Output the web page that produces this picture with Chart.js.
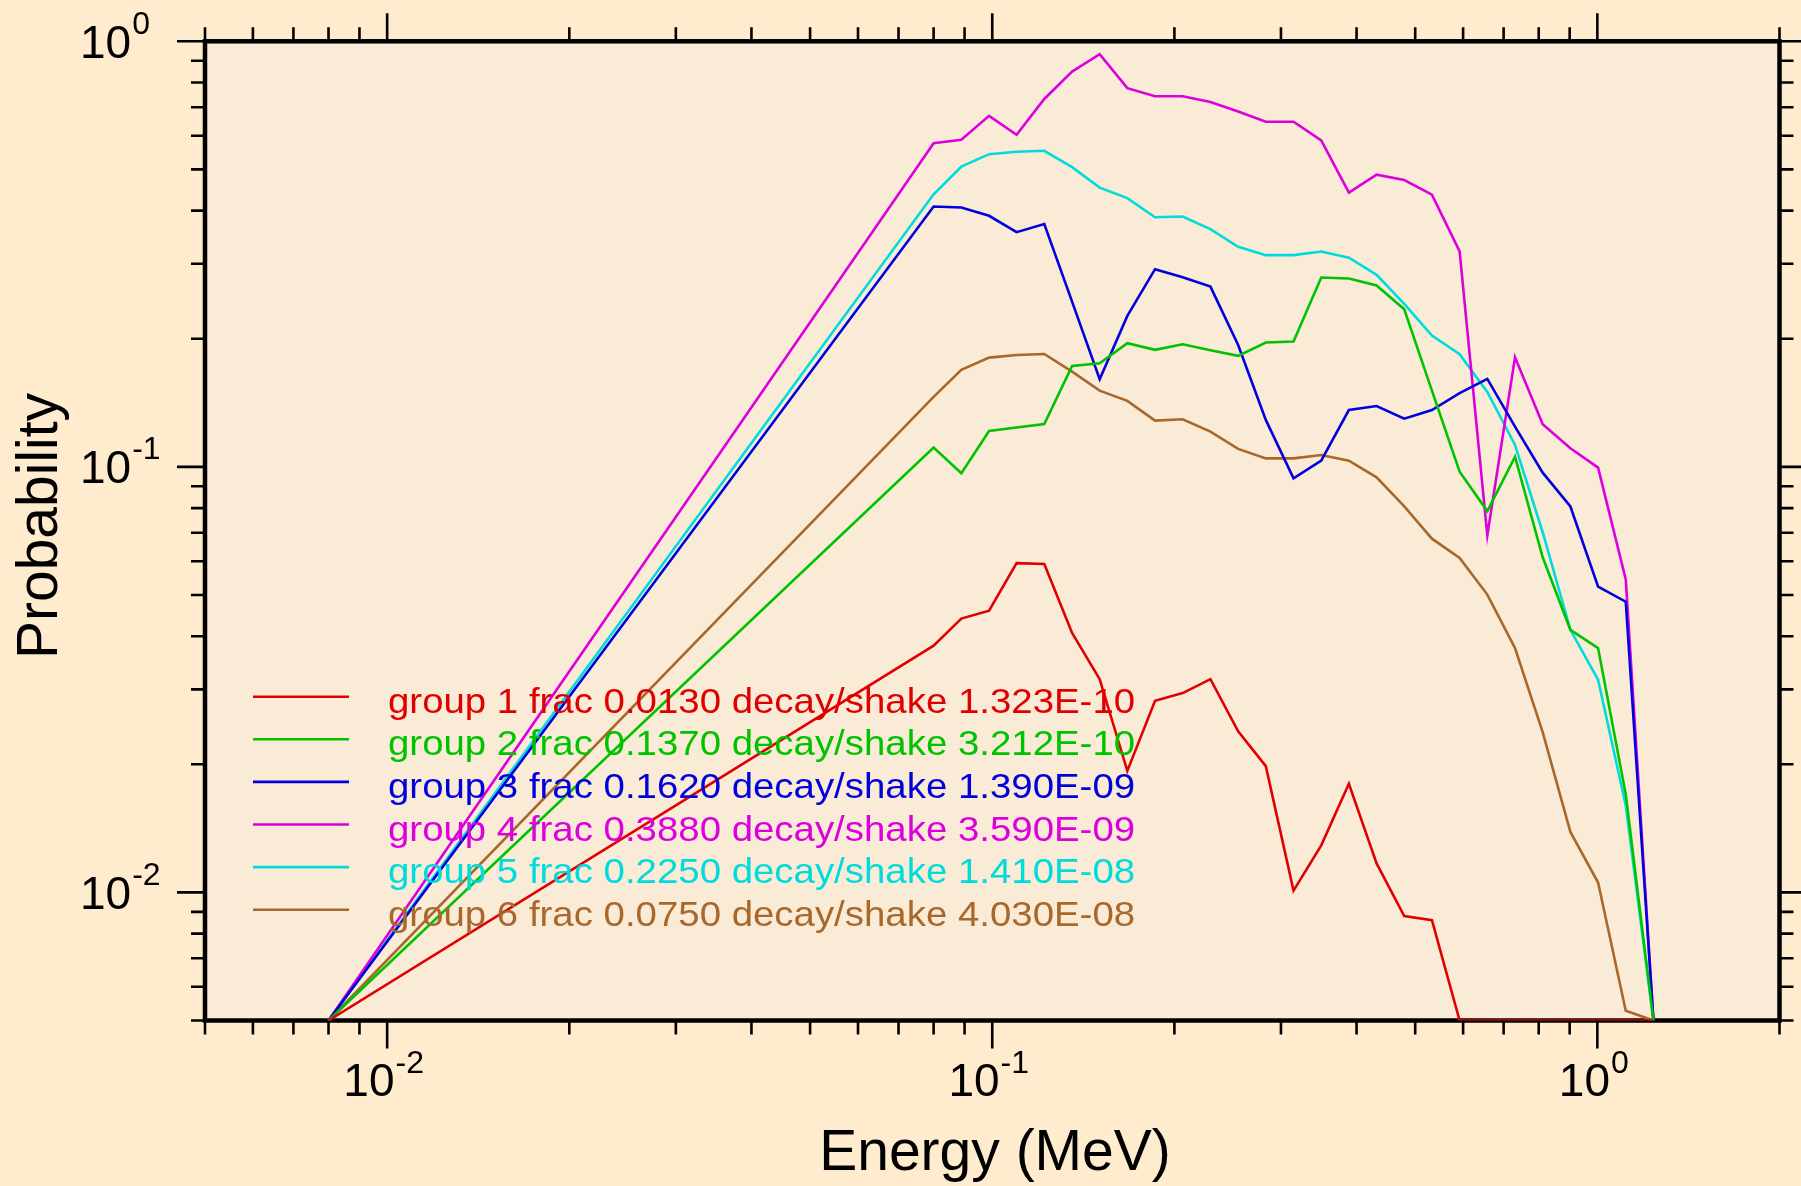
<!DOCTYPE html>
<html><head><meta charset="utf-8">
<script src="https://cdn.jsdelivr.net/npm/chart.js@4.4.1/dist/chart.umd.min.js"></script>
<style>
html,body{margin:0;padding:0;background:#FFEBCD;overflow:hidden}
#wrap{width:1801px;height:1186px;position:relative}
canvas{display:block}
</style></head>
<body><div id="wrap"><canvas id="c" width="1801" height="1186"></canvas></div>
<script>
// ---- data ----
const energy = [0.008, 0.08, 0.0889, 0.0988, 0.1097, 0.1219, 0.1355, 0.1505, 0.1672, 0.1858, 0.2064, 0.2294, 0.2549, 0.2832, 0.3147, 0.3497, 0.3885, 0.4317, 0.4796, 0.5329, 0.5921, 0.6579, 0.7310, 0.8122, 0.9025, 1.0028, 1.1142, 1.238];

const group1 = [0.005, 0.0380, 0.0440, 0.0459, 0.0594, 0.0591, 0.0407, 0.0317, 0.0193, 0.0282, 0.0294, 0.0317, 0.0239, 0.0198, 0.0101, 0.0129, 0.0180, 0.0117, 0.0088, 0.0086, 0.005, 0.005, 0.005, 0.005, 0.005, 0.005, 0.005, 0.005];
const group2 = [0.005, 0.111, 0.0966, 0.1214, 0.1237, 0.126, 0.1726, 0.1751, 0.1952, 0.1883, 0.1941, 0.188, 0.1823, 0.1959, 0.197, 0.2786, 0.277, 0.2667, 0.2346, 0.151, 0.0974, 0.0787, 0.1056, 0.0613, 0.0414, 0.0375, 0.017, 0.005];
const group3 = [0.005, 0.409, 0.407, 0.389, 0.356, 0.372, 0.2445, 0.1607, 0.2263, 0.2914, 0.279, 0.2652, 0.1934, 0.1289, 0.094, 0.1034, 0.136, 0.139, 0.1298, 0.136, 0.149, 0.1609, 0.1243, 0.0969, 0.0807, 0.0523, 0.0482, 0.005];
const group4 = [0.005, 0.576, 0.587, 0.668, 0.603, 0.732, 0.849, 0.933, 0.776, 0.743, 0.743, 0.72, 0.684, 0.647, 0.647, 0.585, 0.441, 0.486, 0.472, 0.436, 0.321, 0.069, 0.181, 0.126, 0.1106, 0.0996, 0.0544, 0.005];
const group5 = [0.005, 0.437, 0.508, 0.543, 0.550, 0.553, 0.506, 0.453, 0.428, 0.386, 0.3875, 0.362, 0.329, 0.3144, 0.3144, 0.3206, 0.310, 0.2826, 0.2415, 0.2034, 0.184, 0.150, 0.1126, 0.0702, 0.0414, 0.0316, 0.0160, 0.005];
const group6 = [0.005, 0.146, 0.169, 0.1806, 0.1832, 0.1842, 0.1674, 0.151, 0.1429, 0.1284, 0.1294, 0.121, 0.1102, 0.1047, 0.1047, 0.1066, 0.1034, 0.0945, 0.0807, 0.0678, 0.0611, 0.0501, 0.0375, 0.0238, 0.01387, 0.01055, 0.00527, 0.005];

const seriesLabels = [
  'group 1 frac 0.0130 decay/shake 1.323E-10',
  'group 2 frac 0.1370 decay/shake 3.212E-10',
  'group 3 frac 0.1620 decay/shake 1.390E-09',
  'group 4 frac 0.3880 decay/shake 3.590E-09',
  'group 5 frac 0.2250 decay/shake 1.410E-08',
  'group 6 frac 0.0750 decay/shake 4.030E-08'
];

const xMajorTicks = [0.01, 0.1, 1];
const xTickExponents = ['-2', '-1', '0'];
const yMajorTicks = [1, 0.1, 0.01];
const yTickExponents = ['0', '-1', '-2'];
const xTitle = 'Energy (MeV)';
const yTitle = 'Probability';

// ---- styles ----
const colors = ['#E10000', '#00C300', '#0000DC', '#DC00DC', '#00DCDC', '#A8682C'];
const allSeries = [group1, group2, group3, group4, group5, group6];
const FONT = '"Liberation Sans", Arial, Helvetica, sans-serif';

function minorTicks(lo, hi) {
  const out = [];
  for (let d = -3; d <= 0; d++) {
    for (let m = 1; m <= 9; m++) {
      const v = +(m * Math.pow(10, d)).toPrecision(6);
      if (v >= lo - 1e-12 && v <= hi + 1e-12) out.push(v);
    }
  }
  return out;
}
const xMinorTicks = minorTicks(0.005, 2).filter(v => !xMajorTicks.some(t => Math.abs(t - v) < 1e-9));
const yMinorTicks = minorTicks(0.005, 1).filter(v => !yMajorTicks.some(t => Math.abs(t - v) < 1e-9));

const datasets = allSeries.map((s, i) => ({
  label: seriesLabels[i],
  data: energy.map((e, k) => ({x: e, y: s[k]})),
  borderColor: colors[i],
  backgroundColor: colors[i],
  borderWidth: 2.6,
  pointRadius: 0,
  tension: 0,
  fill: false
}));

const decor = {
  id: 'decor',
  beforeDraw(chart) {
    const {ctx, chartArea: a} = chart;
    ctx.save();
    ctx.fillStyle = '#FFEBCD';
    ctx.fillRect(0, 0, chart.width, chart.height);
    ctx.fillStyle = '#FAEBD7';
    ctx.fillRect(a.left, a.top, a.right - a.left, a.bottom - a.top);
    ctx.restore();
  },
  beforeDatasetsDraw(chart) {
    const {ctx, chartArea: a} = chart;
    const xs = chart.scales.x, ys = chart.scales.y;
    ctx.save();
    ctx.strokeStyle = '#000';
    ctx.lineCap = 'butt';
    ctx.lineWidth = 2.6;
    const tick = (vals, len) => {
      vals.forEach(v => {
        const px = xs.getPixelForValue(v);
        ctx.beginPath();
        ctx.moveTo(px, a.top); ctx.lineTo(px, a.top - len);
        ctx.moveTo(px, a.bottom); ctx.lineTo(px, a.bottom + len);
        ctx.stroke();
      });
    };
    const ytick = (vals, len) => {
      vals.forEach(v => {
        const py = ys.getPixelForValue(v);
        ctx.beginPath();
        ctx.moveTo(a.left, py); ctx.lineTo(a.left - len, py);
        ctx.moveTo(a.right, py); ctx.lineTo(a.right + len, py);
        ctx.stroke();
      });
    };
    tick(xMinorTicks, 14); tick(xMajorTicks, 28);
    ytick(yMinorTicks, 14); ytick(yMajorTicks, 28);
    ctx.lineWidth = 4.5;
    ctx.strokeRect(a.left, a.top, a.right - a.left, a.bottom - a.top);

    ctx.fillStyle = '#000';
    ctx.textAlign = 'left';
    ctx.textBaseline = 'alphabetic';
    const bigF = '46px ' + FONT, supF = '32px ' + FONT;
    xMajorTicks.forEach((v, i) => {
      const px = xs.getPixelForValue(v);
      ctx.font = bigF; const w1 = ctx.measureText('10').width;
      ctx.font = supF; const w2 = ctx.measureText(xTickExponents[i]).width;
      const x0 = px - (w1 + w2) / 2 - 4;
      ctx.font = bigF; ctx.fillText('10', x0, a.bottom + 75);
      ctx.font = supF; ctx.fillText(xTickExponents[i], x0 + w1 + 1, a.bottom + 52);
    });
    yMajorTicks.forEach((v, i) => {
      const py = ys.getPixelForValue(v);
      ctx.font = bigF; const w1 = ctx.measureText('10').width;
      ctx.fillText('10', 80, py + 16.5);
      ctx.font = supF; ctx.fillText(yTickExponents[i], 80 + w1 + 1, py - 7.5);
    });

    ctx.font = '57px ' + FONT;
    ctx.textAlign = 'center';
    ctx.fillText(xTitle, 995, 1170);
    ctx.save();
    ctx.translate(56.5, 526);
    ctx.rotate(-Math.PI / 2);
    ctx.fillText(yTitle, 0, 0);
    ctx.restore();
    ctx.restore();
  },
  afterDatasetsDraw(chart) {
    const {ctx} = chart;
    ctx.save();
    ctx.textAlign = 'left';
    ctx.textBaseline = 'alphabetic';
    ctx.font = '35px ' + FONT;
    chart.data.datasets.forEach((ds, i) => {
      const ly = 696.7 + 42.6 * i;
      ctx.strokeStyle = ds.borderColor;
      ctx.lineWidth = 2.6;
      ctx.beginPath(); ctx.moveTo(253, ly); ctx.lineTo(349, ly); ctx.stroke();
      ctx.fillStyle = ds.borderColor;
      ctx.save();
      ctx.translate(388, ly + 16);
      ctx.scale(1.097, 1);
      ctx.fillText(ds.label, 0, 0);
      ctx.restore();
    });
    ctx.restore();
  }
};

new Chart(document.getElementById('c'), {
  type: 'line',
  data: {datasets},
  options: {
    responsive: false,
    animation: false,
    devicePixelRatio: 1,
    layout: {padding: {left: 205, top: 41.3, right: 21.5, bottom: 165.5}},
    plugins: {legend: {display: false}, tooltip: {enabled: false}},
    scales: {
      x: {type: 'logarithmic', min: 0.005, max: 2, display: false},
      y: {type: 'logarithmic', min: 0.005, max: 1, display: false}
    }
  },
  plugins: [decor]
});
</script>
</body></html>
